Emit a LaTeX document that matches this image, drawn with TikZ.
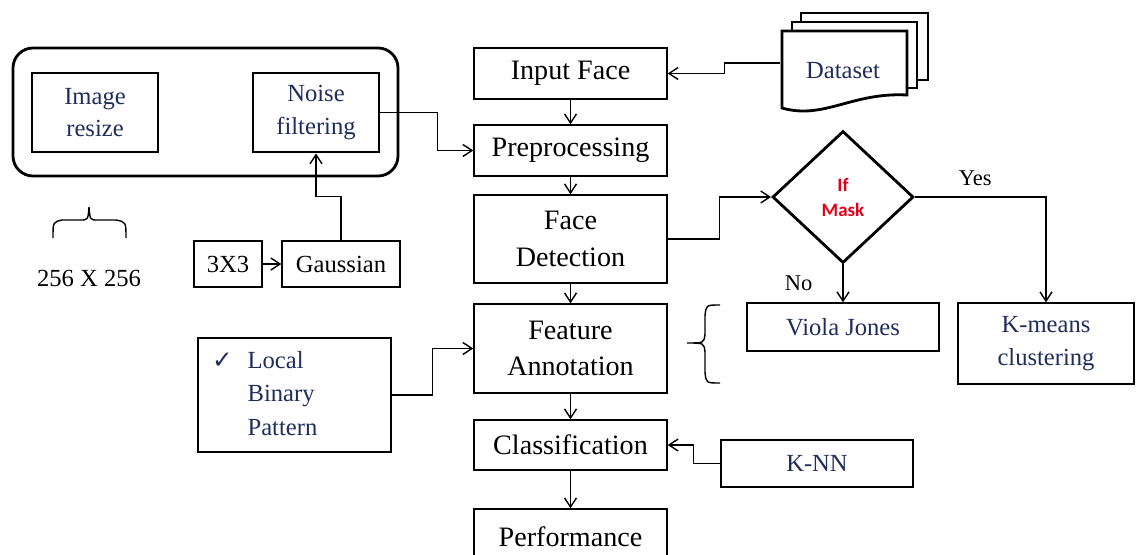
\documentclass[tikz,border=0pt]{standalone}
\usepackage{fontspec}
\setmainfont{Liberation Serif}
\newfontfamily\calfont{Carlito}
\newfontfamily\symfont{DejaVu Sans}
\usetikzlibrary{shapes,arrows.meta}
\definecolor{navy}{RGB}{31,45,92}
\definecolor{maskred}{RGB}{226,0,26}
\tikzstyle{block} = [draw, rectangle, line width=1pt, inner sep=0pt,
    minimum width=4.825cm, align=center, font=\fontsize{20}{26}\selectfont]
\tikzstyle{method} = [draw, rectangle, line width=1pt, inner sep=0pt,
    align=center, text=navy, font=\fontsize{17.5}{24}\selectfont]
\tikzstyle{stage} = [draw, rectangle, line width=2pt, inner sep=0pt,
    minimum width=3.15cm, minimum height=1.975cm, align=center,
    text=navy, font=\fontsize{17.5}{23}\selectfont]
\tikzstyle{stagebox} = [draw, rectangle, line width=2pt, rounded corners=0.5cm]
\tikzstyle{small} = [draw, rectangle, line width=1pt, inner sep=0pt,
    minimum height=1.15cm, font=\fontsize{17.5}{22}\selectfont]
\tikzstyle{decision} = [draw, diamond, line width=2pt, inner sep=0pt,
    minimum width=3.525cm, minimum height=3.3cm, align=center,
    text=maskred, font=\calfont\bfseries\fontsize{13.5}{17.8}\selectfont]
\tikzstyle{docpage} = [draw, line width=2pt, fill=white]
\tikzstyle{line} = [line width=1pt]
\tikzstyle{lbl} = [inner sep=0pt, font=\fontsize{16}{20}\selectfont]

\begin{document}
\begin{tikzpicture}[>={Straight Barb[length=6.5pt,width=8.5pt]}]
	\useasboundingbox (0,0) rectangle (28.4,-13.85);
	\clip (0,0) rectangle (28.4,-13.85);
% Main column
	\node [block, minimum height=1.275cm] (inface) at (14.2625,-1.8375) {Input Face};
	\node [block, minimum height=1.275cm, below of=inface, node distance=1.925cm] (prep) {Preprocessing};
	\node [block, minimum height=2.2cm, below of=prep, node distance=2.2125cm] (facedet) {Face\\Detection};
	\node [block, minimum height=2.225cm, below of=facedet, node distance=2.7375cm] (feat) {Feature\\Annotation};
	\node [block, minimum height=1.25cm, below of=feat, node distance=2.4125cm] (classif) {Classification};
	\node [block, minimum height=1.4cm, below of=classif, node distance=2.3cm] (perf) {Performance};
% Dataset pages
	\draw [docpage] (20.025,-0.55) |- (23.2,-0.325) |- (22.925,-2.0);
	\draw [docpage] (19.8,-0.775) |- (22.925,-0.55) |- (22.675,-2.2);
	\draw [docpage] (19.55,-0.775) -- (22.675,-0.775) -- (22.675,-2.375)
		.. controls (21.3,-2.3) and (20.6,-3.0) .. (19.55,-2.7) -- cycle;
	\node [inner sep=0pt, minimum width=3.125cm, minimum height=2cm, text=navy,
		font=\fontsize{17.5}{24}\selectfont] (dataset) at (21.075,-1.775) {Dataset};
% Decision and methods
	\node [decision, below of=dataset, node distance=3.15cm] (dia) {If\\Mask};
	\node [method, minimum width=4.8cm, minimum height=1.2cm, below of=dia, node distance=3.25cm] (viola) {Viola Jones};
	\node [method, minimum width=4.4cm, minimum height=2.025cm] (kmeans) at (26.15,-8.5875) {K-means\\clustering};
	\node [method, minimum width=4.8cm, minimum height=1.175cm] (knn) at (20.425,-11.5875) {K-NN};
	\node [method, minimum width=4.825cm, minimum height=2.85cm, text width=4.125cm,
		inner xsep=0.35cm, align=left] (lbp) at (7.3625,-9.875)
		{\begin{tabular}{@{}l@{\hspace{0.375cm}}l@{}}{\symfont ✓} & Local\\ & Binary\\ & Pattern\end{tabular}};
% Preprocessing group
	\node [stagebox, minimum width=9.625cm, minimum height=3.2cm] (group) at (5.1375,-2.8) {};
	\node [stage] (resize) at (2.375,-2.8125) {Image\\resize};
	\node [stage, right of=resize, node distance=5.525cm] (noise) {Noise\\filtering};
	\node [small, minimum width=2.95cm] (gauss) at (8.525,-6.6) {Gaussian};
	\node [small, minimum width=1.7cm, left of=gauss, node distance=2.825cm] (three) {3X3};
	\node [inner sep=0pt, font=\fontsize{17.5}{22}\selectfont] (imgsize) at (2.225,-6.95) {256 X 256};
% Connections
	\draw [->, line] ([yshift=0.2cm]dataset.west) -- ++(-1.4,0) |- (inface.east);
	\draw [->, line] (inface) -- (prep);
	\draw [->, line] (prep) -- (facedet);
	\draw [->, line] (facedet) -- (feat);
	\draw [->, line] (feat) -- (classif);
	\draw [->, line] (classif) -- (perf);
	\draw [->, line] (noise.east) -- ++(1.425,0) |- (prep.west);
	\draw [->, line] (facedet.east) -- ++(1.3,0) |- (dia.west);
	\draw [->, line] (dia.east) -| node[lbl, pos=0.23, above=0.275cm] {Yes} (kmeans.north);
	\draw [->, line] (dia.south) -- node[lbl, left=0.75cm] {No} (viola.north);
	\draw [->, line] (knn.west) -- ++(-0.675,0) |- (classif.east);
	\draw [->, line] (lbp.east) -- ++(1.025,0) |- (feat.west);
	\draw [->, line] (three) -- (gauss);
	\draw [->, line] (gauss.north) -- ++(0,1.1) -| (noise.south);
% Braces
	\draw [line] (1.325,-5.95) .. controls (1.325,-5.55) .. (1.55,-5.5) -- (2.0,-5.5)
		.. controls (2.2,-5.5) .. (2.225,-5.175) .. controls (2.25,-5.5) .. (2.45,-5.5)
		-- (2.9,-5.5) .. controls (3.15,-5.55) .. (3.15,-5.95);
	\draw [line] (18.0,-7.625) .. controls (17.65,-7.625) .. (17.625,-7.9) -- (17.625,-8.35)
		.. controls (17.6,-8.575) .. (17.175,-8.575) .. controls (17.6,-8.575) .. (17.625,-8.8)
		-- (17.625,-9.3) .. controls (17.65,-9.575) .. (18.0,-9.575);
\end{tikzpicture}
\end{document}
